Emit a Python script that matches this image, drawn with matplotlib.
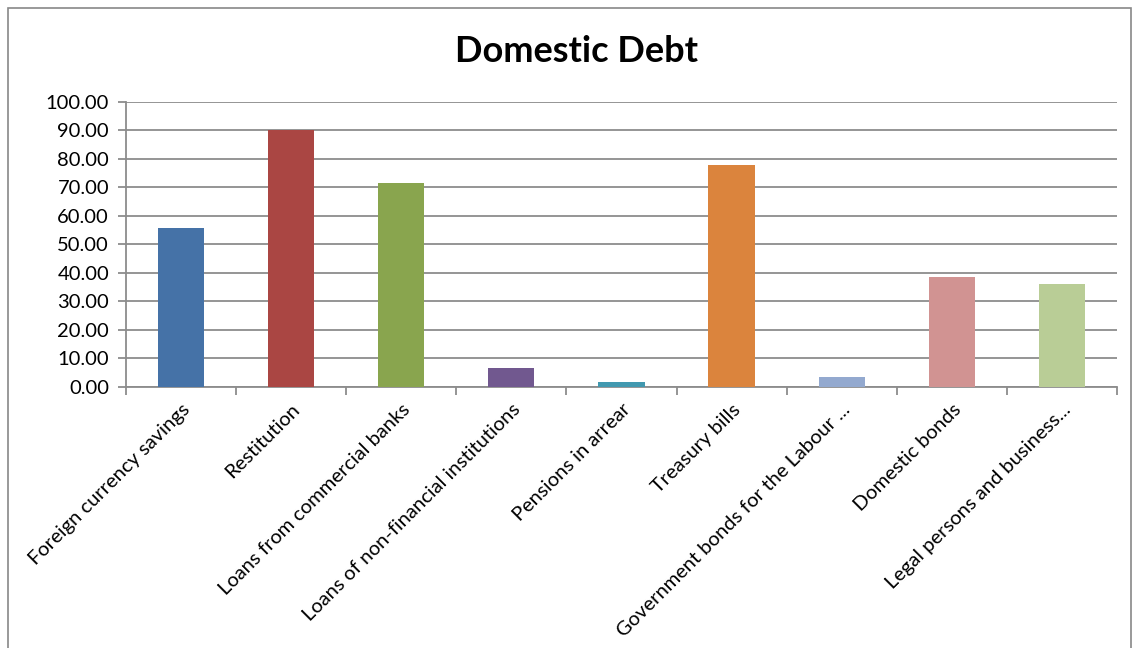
import numpy as np
import matplotlib.pyplot as plt
from matplotlib.patches import Rectangle

categories = ['Foreign currency savings', 'Restitution', 'Loans from commercial banks',
              'Loans of non-financial institutions', 'Pensions in arrear', 'Treasury bills',
              'Government bonds for the Labour ...', 'Domestic bonds',
              'Legal persons and business...']
values = [55.6, 90.0, 71.4, 6.6, 1.7, 77.8, 3.4, 38.5, 36.0]
colors = ['#4572A7', '#AA4643', '#89A54E', '#71588F', '#4198AF',
          '#DB843D', '#93A9CF', '#D19392', '#B9CD96']

plt.rcParams['font.family'] = ['Lato', 'DejaVu Sans']

fig = plt.figure(figsize=(11.33, 6.48), dpi=100)
ax = fig.add_axes([0.111, 0.403, 0.875, 0.44])

# outer chart border
fig.patches.append(Rectangle((0.007, -0.05), 0.991, 1.038, transform=fig.transFigure,
                             fill=False, edgecolor='#888888', linewidth=1.2))

x = np.arange(len(categories))
ax.bar(x, values, width=0.42, color=colors, zorder=3)

ax.set_xlim(-0.5, len(categories) - 0.5)
ax.set_ylim(0, 100)
ax.set_yticks(np.arange(0, 101, 10))
ax.set_yticklabels(['%.2f' % v for v in np.arange(0, 101, 10)], fontsize=14.5)
ax.yaxis.grid(True, color='#8c8c8c', linewidth=1.3, zorder=0)

# category labels centered under bars, tick marks between categories
ax.set_xticks(x)
ax.set_xticklabels(categories, rotation=45, ha='right', rotation_mode='anchor', fontsize=14.5)
ax.tick_params(axis='x', length=0, pad=10)
ax.set_xticks(np.arange(-0.5, len(categories)), minor=True)
ax.tick_params(axis='x', which='minor', length=6, color='#8c8c8c', width=1.3)
ax.tick_params(axis='y', length=6, color='#8c8c8c', width=1.3, pad=6)

for side in ['top', 'right']:
    ax.spines[side].set_visible(False)
for side in ['left', 'bottom']:
    ax.spines[side].set_color('#8c8c8c')
    ax.spines[side].set_linewidth(1.3)

fig.text(0.509, 0.92, 'Domestic Debt', ha='center', va='center', fontsize=26, fontweight='bold')

fig.savefig('out.png', dpi=100)
